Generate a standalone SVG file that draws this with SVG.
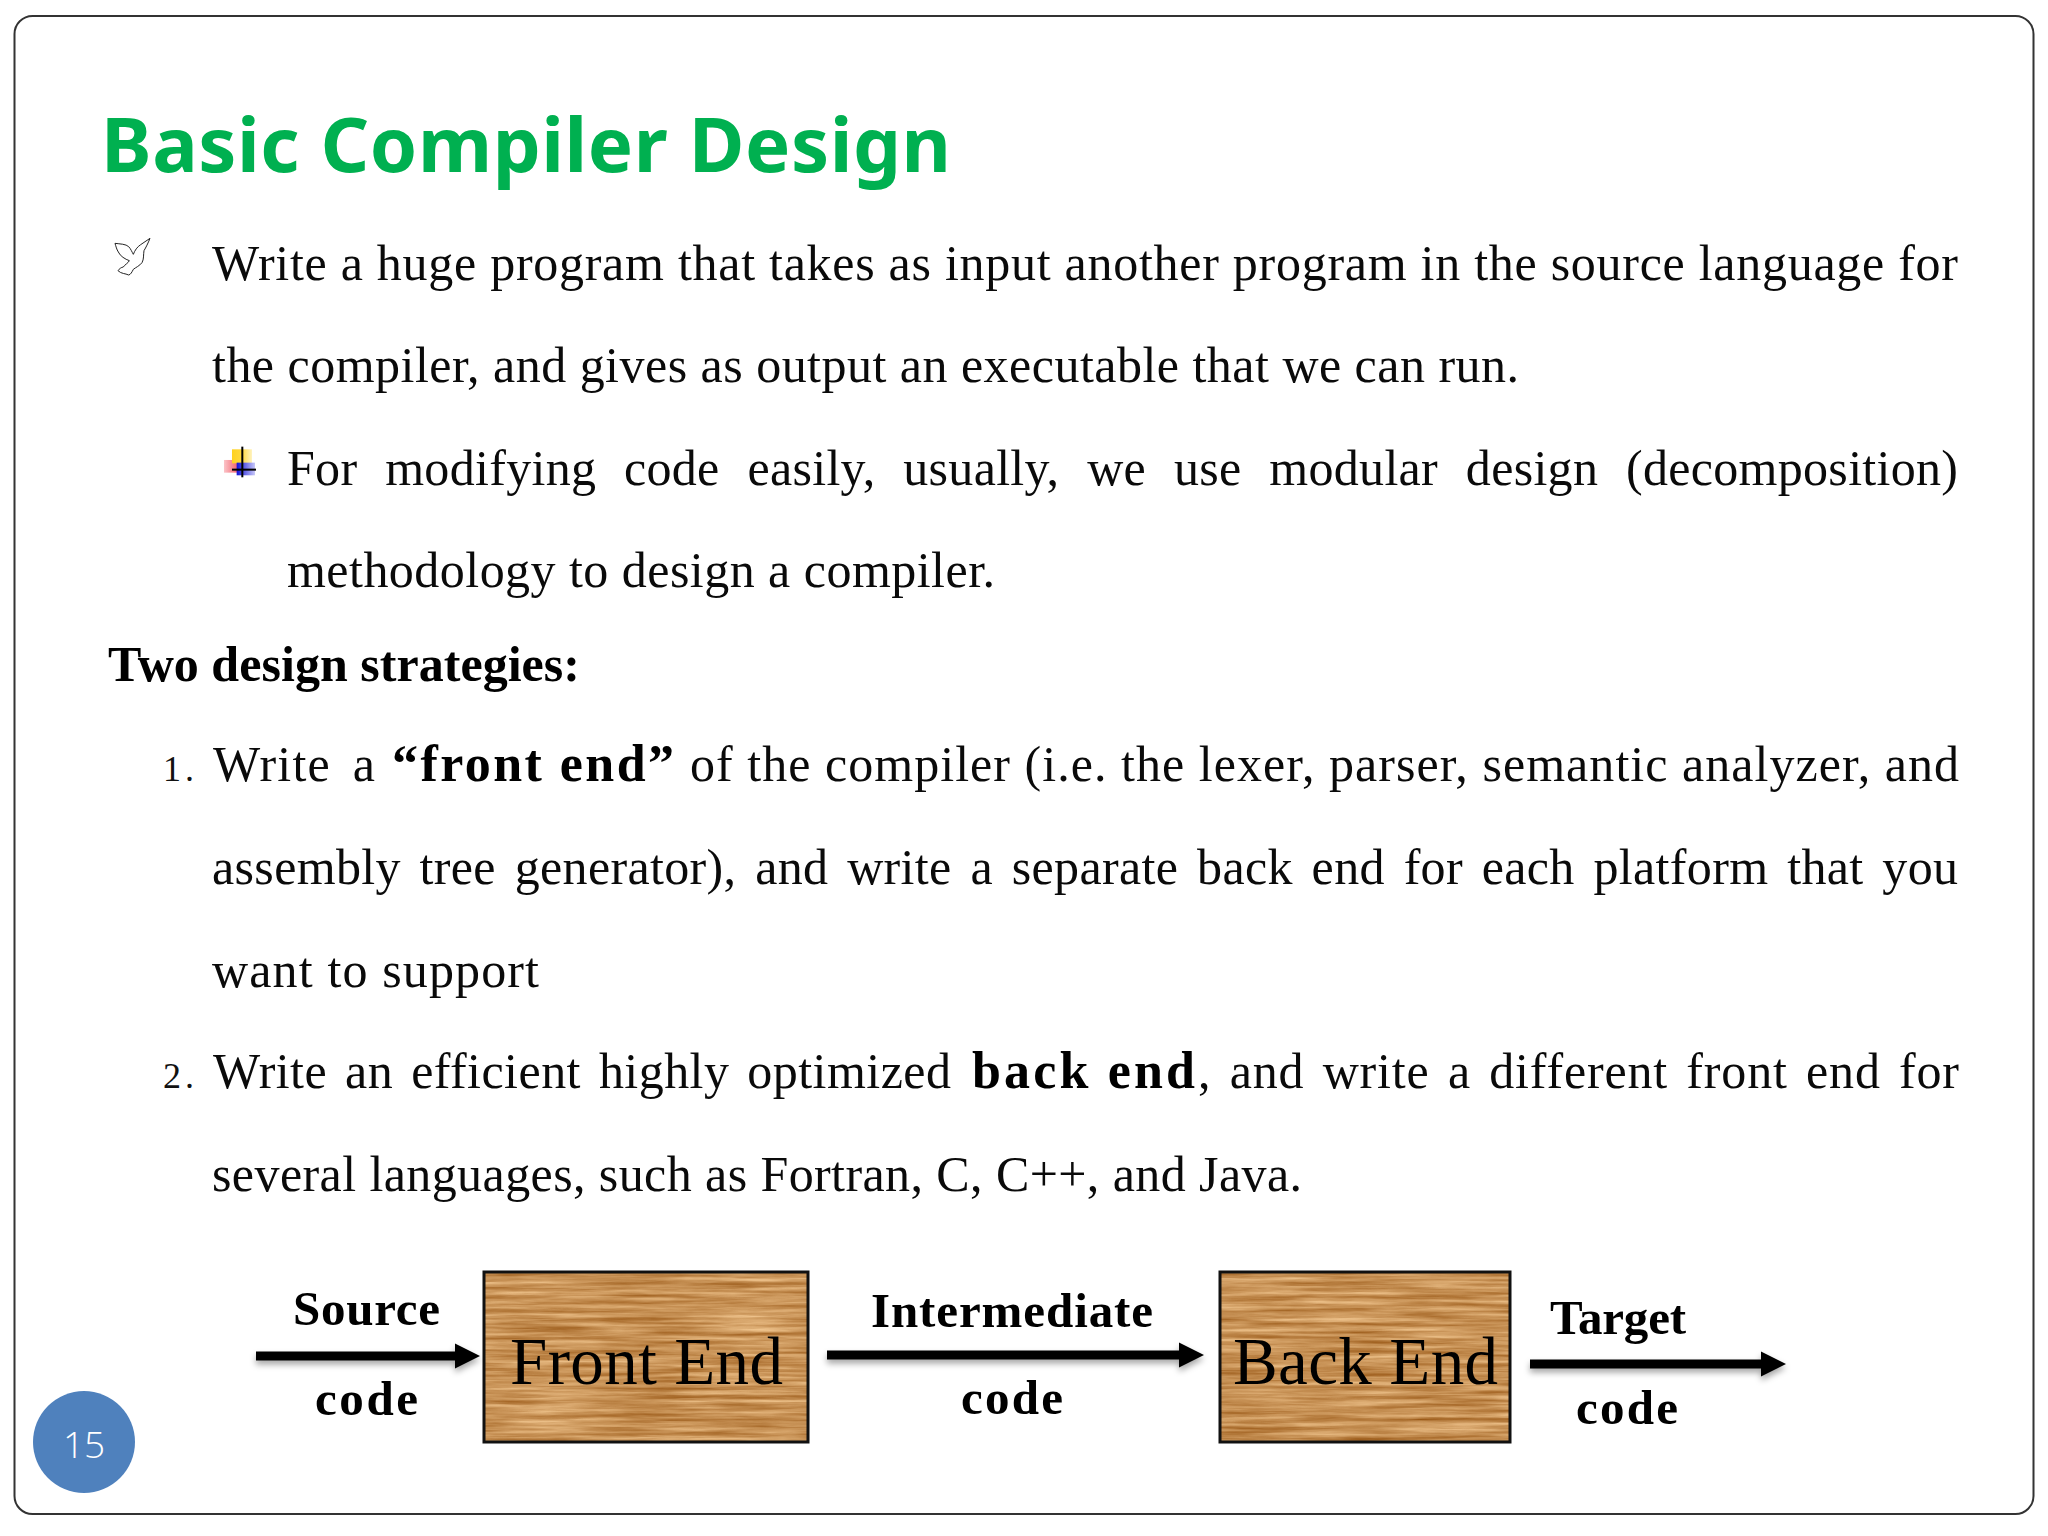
<svg xmlns="http://www.w3.org/2000/svg" width="2048" height="1536" viewBox="0 0 2048 1536">
<style>
.b{font-family:"Liberation Serif",serif;font-size:50px;fill:#0a0a0a}
.bb{font-family:"Liberation Serif",serif;font-size:52px;font-weight:700;fill:#000}
.n{font-family:"Liberation Serif",serif;font-size:36px;fill:#111}
.l{font-family:"Liberation Serif",serif;font-size:49px;font-weight:700;fill:#000}
.w{font-family:"Liberation Serif",serif;font-size:67px;fill:#000}
.wood{filter:url(#wood)}
.box{fill:none;stroke:#111;stroke-width:3}
.arrow{fill:#000;filter:url(#sh)}
</style>
<defs>
<filter id="wood" x="0" y="0" width="1" height="1" color-interpolation-filters="sRGB">
<feTurbulence type="fractalNoise" baseFrequency="0.01 0.22" numOctaves="5" seed="11"/>
<feColorMatrix type="matrix" values="0.4 0 0 0 0.58  0.5 0 0 0 0.32  0.55 0 0 0 0.06  0 0 0 0 1"/>
</filter>
<filter id="sh" x="-5%" y="-60%" width="110%" height="260%"><feDropShadow dx="0" dy="4" stdDeviation="3" flood-color="#000" flood-opacity="0.35"/></filter>
<linearGradient id="gy" x1="0" x2="1" y1="0" y2="0"><stop offset="0" stop-color="#FFD21E"/><stop offset="0.5" stop-color="#FFD940"/><stop offset="1" stop-color="#FFF3C0"/></linearGradient>
<linearGradient id="gr" x1="1" x2="0" y1="0" y2="0"><stop offset="0" stop-color="#F4606C"/><stop offset="1" stop-color="#FBC4C8"/></linearGradient>
<linearGradient id="gb" x1="0" x2="1" y1="0" y2="0"><stop offset="0" stop-color="#1010D8"/><stop offset="1" stop-color="#C8C8F8"/></linearGradient>
</defs>
<rect width="2048" height="1536" fill="#fff"/>
<rect id="frame" x="14.5" y="16" width="2019" height="1498" rx="18" fill="#fff" stroke="#333" stroke-width="2"/>
<text id="title" x="101" y="172" textLength="850" style="font-family:'Noto Sans','Open Sans',sans-serif;font-size:76px;font-weight:700;fill:#00B050">Basic Compiler Design</text>

<g id="bullet-dove" transform="translate(100 220) scale(0.3333)" fill="#fff" stroke="#222" stroke-width="3" stroke-linejoin="round">
<path d="M45 70 C60 72 78 72 86 80 C92 86 96 96 100 103 C104 92 112 80 122 74 L150 55 C144 70 138 82 132 92 C130 104 132 118 126 128 C118 138 108 142 100 148 C96 156 92 164 86 165 C76 160 64 162 54 152 C58 146 64 142 70 141 C74 134 84 130 88 122 C76 118 60 108 55 96 C50 88 48 80 45 70Z"/>
</g>
<g id="bullet-square" transform="translate(100 220) scale(0.3333)">
<rect x="372" y="720" width="42" height="38" fill="url(#gr)"/>
<rect x="396" y="688" width="60" height="42" fill="url(#gy)"/>
<rect x="410" y="728" width="55" height="38" fill="url(#gb)"/>
<rect x="424" y="680" width="6" height="92" fill="#000"/>
<rect x="396" y="746" width="72" height="6" fill="#000"/>
</g>

<g id="body">
<text class="b" x="212" y="280" textLength="1746">Write a huge program that takes as input another program in the source language for</text>
<text class="b" x="212" y="382" textLength="1307">the compiler, and gives as output an executable that we can run.</text>
<text class="b" x="287" y="485" textLength="1671" style="word-spacing:15px">For modifying code easily, usually, we use modular design (decomposition)</text>
<text class="b" x="287" y="587" textLength="708">methodology to design a compiler.</text>
<text class="bb" x="108" y="681" textLength="472" style="font-size:50px">Two design strategies:</text>
<text class="n" x="163" y="781" textLength="31">1.</text>
<text class="b" x="213" y="781" textLength="162" style="word-spacing:8px">Write a</text>
<text class="bb" x="392" y="781" textLength="282">“front end”</text>
<text class="b" x="690" y="781" textLength="1269">of the compiler (i.e. the lexer, parser, semantic analyzer, and</text>
<text class="b" x="212" y="884" textLength="1746" style="word-spacing:6px">assembly tree generator), and write a separate back end for each platform that you</text>
<text class="b" x="212" y="987" textLength="327">want to support</text>
<text class="n" x="163" y="1088" textLength="31">2.</text>
<text class="b" x="213" y="1088" textLength="738" style="word-spacing:5px">Write an efficient highly optimized</text>
<text class="bb" x="972" y="1088" textLength="223">back end</text>
<text class="b" x="1198" y="1088" textLength="761" style="word-spacing:5px">, and write a different front end for</text>
<text class="b" x="212" y="1191" textLength="1090">several languages, such as Fortran, C, C++, and Java.</text>
</g>

<g id="connectors">
<path id="arrow-source" class="arrow" d="M256 1351.5H455V1343.5L480 1356L455 1368.5V1360.5H256Z"/>
<path id="arrow-intermediate" class="arrow" d="M827 1350.5H1179V1342.5L1204 1355L1179 1367.5V1359.5H827Z"/>
<path id="arrow-target" class="arrow" d="M1530 1359.5H1761V1351.5L1786 1364L1761 1376.5V1368.5H1530Z"/>
</g>

<g id="label-source">
<text class="l" x="293" y="1325" textLength="147">Source</text>
<text class="l" x="315" y="1415" textLength="103">code</text>
</g>
<g id="label-intermediate">
<text class="l" x="871" y="1327" textLength="282">Intermediate</text>
<text class="l" x="961" y="1414" textLength="102">code</text>
</g>
<g id="label-target">
<text class="l" x="1550" y="1334" textLength="136">Target</text>
<text class="l" x="1576" y="1424" textLength="102">code</text>
</g>

<g id="front-end">
<rect class="wood" x="484" y="1271" width="325" height="172"/>
<rect class="box" x="484" y="1272" width="324" height="170"/>
<text class="w" x="510" y="1384" textLength="273">Front End</text>
</g>
<g id="back-end">
<rect class="wood" x="1219" y="1271" width="292" height="172"/>
<rect class="box" x="1220" y="1272" width="290" height="170"/>
<text class="w" x="1233" y="1384" textLength="265">Back End</text>
</g>

<g id="page-number">
<circle cx="84" cy="1442" r="51" fill="#4F81BD"/>
<text x="84" y="1458" text-anchor="middle" style="font-family:'Open Sans',sans-serif;font-size:37px;font-weight:300;fill:#fff">15</text>
</g>
</svg>
